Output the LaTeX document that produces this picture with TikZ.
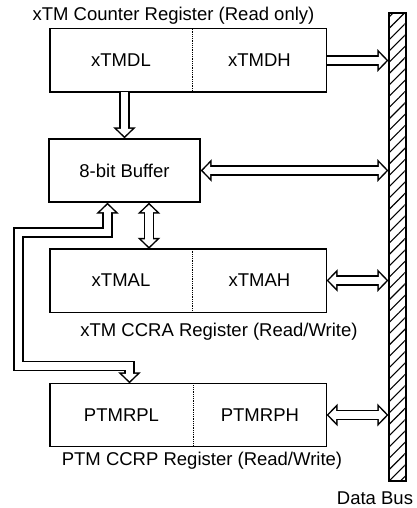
\documentclass[tikz,border=0pt]{standalone}
\usepackage{fontspec}
\setmainfont{Liberation Sans}
\usetikzlibrary{arrows.meta,positioning,patterns.meta}

\begin{document}
\begin{tikzpicture}[x=1pt, y=-1pt, font=\fontsize{18.5}{22}\selectfont,
    half/.style={minimum height=63pt, inner sep=0pt},
    frame/.style={line width=1.4pt},
    wire/.style={line width=10.5pt, -{Triangle[length=11pt,width=22pt]},
      postaction={draw=white, line width=7.5pt, shorten >=2.1pt, -{Triangle[length=7.4pt,width=14.8pt]}}},
    wire2/.style={line width=10.5pt, {Triangle[length=11pt,width=22pt]}-{Triangle[length=11pt,width=22pt]},
      postaction={draw=white, line width=7.5pt, shorten >=2.1pt, shorten <=2.1pt, {Triangle[length=7.4pt,width=14.8pt]}-{Triangle[length=7.4pt,width=14.8pt]}}}]
  \useasboundingbox (0,0) rectangle (416,508);

  % data bus
  \node[draw, frame, minimum width=17pt, minimum height=468pt, inner sep=0pt,
    pattern={Lines[angle=45,distance=8pt,line width=1.1pt]}] (bus) at (397.5,247) {};
  \node (buslbl) at (375,498.5) {Data Bus};

  % counter register
  \node[half, minimum width=142pt] (dl) at (121,60.5) {xTMDL};
  \node[half, minimum width=134pt, right=0pt of dl] (dh) {xTMDH};
  \draw[frame] (dl.north west) rectangle (dh.south east);
  \draw[densely dotted, thick] (dl.north east) -- (dl.south east);
  \node (cntlbl) at (173.5,16) {xTM Counter Register (Read only)};

  % buffer
  \node[draw, frame, minimum width=151pt, minimum height=63pt, inner sep=0pt] (buf) at (124.5,170.5) {8-bit Buffer};

  % CCRA register
  \node[half, minimum width=142pt] (al) at (121,280.5) {xTMAL};
  \node[half, minimum width=134pt, right=0pt of al] (ah) {xTMAH};
  \draw[frame] (al.north west) rectangle (ah.south east);
  \draw[densely dotted, thick] (al.north east) -- (al.south east);
  \node (ccralbl) at (219,332) {xTM CCRA Register (Read/Write)};

  % CCRP register
  \node[half, minimum width=143pt] (pl) at (121.5,415) {PTMRPL};
  \node[half, minimum width=133pt, right=0pt of pl] (ph) {PTMRPH};
  \draw[frame] (pl.north west) rectangle (ph.south east);
  \draw[densely dotted, thick] (pl.north east) -- (pl.south east);
  \node (ccrplbl) at (202,461) {PTM CCRP Register (Read/Write)};

  % connections
  \coordinate (lp1) at (18.5,232.5);
  \coordinate (lp2) at (18.5,366);
  \draw[wire] (dh.east) -- (dh.east -| bus.west);
  \draw[wire] (buf.north |- dl.south) -- (buf.north);
  \draw[wire2] (buf.east) -- (buf.east -| bus.west);
  \draw[wire2] ([xshift=24.5pt]buf.south) -- ([xshift=24.5pt]buf.south |- al.north);
  \draw[wire2] ([xshift=-17pt]buf.south) |- (lp1) -- (lp2) -| ([xshift=8pt]pl.north);
  \draw[wire2] (ah.east) -- (ah.east -| bus.west);
  \draw[wire2] (ph.east) -- (ph.east -| bus.west);
\end{tikzpicture}
\end{document}
